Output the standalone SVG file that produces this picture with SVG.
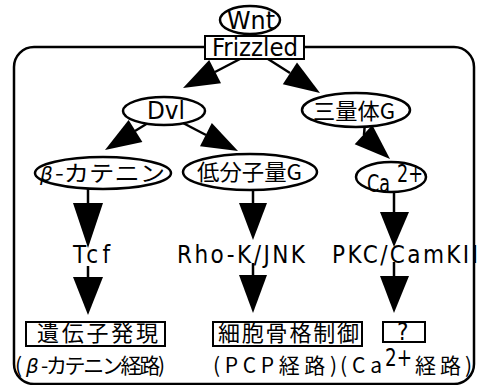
<svg xmlns="http://www.w3.org/2000/svg" width="478" height="385" viewBox="0 0 478 385">
<style>
.n{fill:#fff;stroke:#000;stroke-width:2.5}
.b{fill:#fff;stroke:#000;stroke-width:2}
.c{stroke:#000;stroke-width:2.5;fill:none}
.h{fill:#000;stroke:none}
text{font-family:"Noto Sans CJK JP","DejaVu Sans",sans-serif;fill:#000}
.l{font-family:"DejaVu Sans Condensed","Noto Sans CJK JP",sans-serif;font-size:24px}
.j{font-size:22px}
.k{font-size:21px}
.g{font-style:italic;font-family:"DejaVu Sans",sans-serif;font-size:20px}
</style>
<rect x="14" y="47" width="460" height="337" rx="20" ry="20" class="c"/>
<g id="connectors">
<line class="c" x1="240" y1="59" x2="215" y2="72"/>
<polygon class="h" points="183,88 209.2,60.1 221,83.3"/>
<line class="c" x1="268" y1="59" x2="290" y2="73"/>
<polygon class="h" points="320,93 282.8,84.2 297,62.4"/>
<line class="c" x1="148" y1="123" x2="135" y2="131"/>
<polygon class="h" points="105,150 128.6,119.9 142.4,141.9"/>
<line class="c" x1="183" y1="123" x2="206" y2="135"/>
<polygon class="h" points="238,151 200,146.3 211.8,123.1"/>
<line class="c" x1="365" y1="122" x2="364" y2="135"/>
<polygon class="h" points="390,159 354.7,144.2 372.3,125"/>
<line class="c" x1="88" y1="188" x2="88" y2="204"/>
<polygon class="h" points="73,203 103,203 88,248"/>
<line class="c" x1="88" y1="266" x2="88" y2="278"/>
<polygon class="h" points="73,277 103,277 88,315"/>
<line class="c" x1="253" y1="190" x2="253" y2="204"/>
<polygon class="h" points="239,203 267,203 253,240"/>
<line class="c" x1="253" y1="263" x2="253" y2="276"/>
<polygon class="h" points="239,275 267,275 253,313"/>
<line class="c" x1="394" y1="191" x2="394" y2="213"/>
<polygon class="h" points="380,212 409,212 394,247"/>
<line class="c" x1="394" y1="262" x2="394" y2="277"/>
<polygon class="h" points="380,276 409,276 394,313"/>
</g>
<g id="wnt">
<ellipse class="n" cx="250" cy="20" rx="30" ry="14"/>
<text class="l" x="227" y="29" textLength="48" lengthAdjust="spacingAndGlyphs" font-size="22">Wnt</text>
</g>
<g id="frizzled">
<rect class="b" x="205" y="36" width="99" height="23"/>
<text class="l" x="212" y="56" textLength="86" lengthAdjust="spacingAndGlyphs" font-size="22">Frizzled</text>
</g>
<g id="dvl">
<ellipse class="n" cx="164" cy="111" rx="41" ry="14"/>
<text class="l" x="147" y="119" textLength="38" lengthAdjust="spacingAndGlyphs" font-size="22">Dvl</text>
</g>
<g id="trimerG">
<ellipse class="n" cx="356" cy="110" rx="54" ry="17"/>
<text class="j" x="313" y="119" textLength="82" lengthAdjust="spacingAndGlyphs">三量体G</text>
</g>
<g id="betacatenin">
<ellipse class="n" cx="103" cy="173" rx="68" ry="16"/>
<text class="g" x="40" y="181">β</text>
<text class="j" x="55" y="181" textLength="110" lengthAdjust="spacingAndGlyphs">-カテニン</text>
</g>
<g id="smallG">
<ellipse class="n" cx="250" cy="172" rx="67" ry="18"/>
<text class="j" x="197" y="180" textLength="105" lengthAdjust="spacingAndGlyphs">低分子量G</text>
</g>
<g id="ca">
<ellipse class="n" cx="391" cy="177" rx="35" ry="15"/>
<text class="l" x="367" y="192" textLength="23" lengthAdjust="spacingAndGlyphs" font-size="22">Ca</text>
<text class="l" x="397" y="182" textLength="26" lengthAdjust="spacingAndGlyphs" font-size="22">2+</text>
</g>
<g id="tcf">
<text class="l" x="73" y="263" textLength="37" lengthAdjust="spacing">Tcf</text>
</g>
<g id="rhok">
<text class="l" x="177" y="263" textLength="128" lengthAdjust="spacing">Rho-K/JNK</text>
</g>
<g id="pkc">
<text class="l" x="332" y="263" textLength="146" lengthAdjust="spacing">PKC/CamKII</text>
</g>
<g id="gene">
<rect class="b" x="26" y="322" width="139" height="24"/>
<text class="j" x="37" y="341" textLength="121" lengthAdjust="spacing">遺伝子発現</text>
</g>
<g id="cyto">
<rect class="b" x="213" y="322" width="149" height="24"/>
<text class="j" x="218" y="341" textLength="141" lengthAdjust="spacing">細胞骨格制御</text>
</g>
<g id="unknown">
<rect class="b" x="383" y="322" width="42" height="20"/>
<text class="l" x="397" y="340" font-size="21">?</text>
</g>
<g id="labels">
<text class="k" x="15" y="373">(</text>
<text class="g" x="26" y="373">β</text>
<text class="k" x="41" y="373" textLength="124" lengthAdjust="spacing">-カテニン経路)</text>
<text class="k" x="213" y="373" textLength="124" lengthAdjust="spacing">(PCP経路)</text>
<text class="k" x="340" y="373" textLength="42" lengthAdjust="spacing">(Ca</text>
<text class="l" x="385" y="366" textLength="27" lengthAdjust="spacingAndGlyphs" font-size="21">2+</text>
<text class="k" x="415" y="373" textLength="57" lengthAdjust="spacing">経路)</text>
</g>
</svg>
